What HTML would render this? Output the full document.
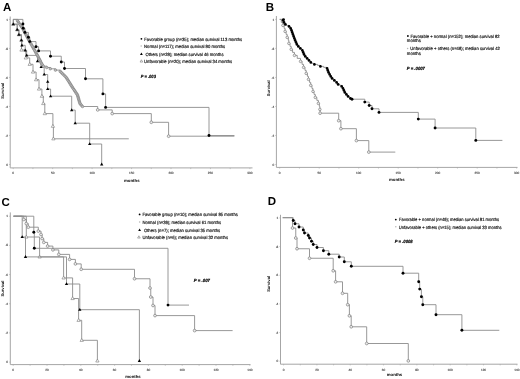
<!DOCTYPE html>
<html><head><meta charset="utf-8"><title>Survival curves</title>
<style>html,body{margin:0;padding:0;background:#fff;width:520px;height:379px;overflow:hidden;font-family:"Liberation Sans",sans-serif}</style>
</head><body>
<svg width="520" height="379" viewBox="0 0 520 379" style="position:absolute;left:0;top:0;will-change:transform;filter:blur(0.3px)">
<rect width="520" height="379" fill="#fff"/>
<g font-family="Liberation Sans, sans-serif" text-rendering="geometricPrecision">
<path d="M10.2 16.5V167.9H252.5" fill="none" stroke="#a6a6a6" stroke-width="1"/>
<path d="M9 164.5H10.2" stroke="#a6a6a6" stroke-width="0.6"/>
<text x="8" y="165.6" font-size="3.1" text-anchor="end" font-weight="normal" font-style="normal" fill="#444" stroke="#444" stroke-width="0.12">0</text>
<path d="M9 135.48H10.2" stroke="#a6a6a6" stroke-width="0.6"/>
<text x="8" y="136.58" font-size="3.1" text-anchor="end" font-weight="normal" font-style="normal" fill="#444" stroke="#444" stroke-width="0.12">.2</text>
<path d="M9 106.46H10.2" stroke="#a6a6a6" stroke-width="0.6"/>
<text x="8" y="107.56" font-size="3.1" text-anchor="end" font-weight="normal" font-style="normal" fill="#444" stroke="#444" stroke-width="0.12">.4</text>
<path d="M9 77.44H10.2" stroke="#a6a6a6" stroke-width="0.6"/>
<text x="8" y="78.54" font-size="3.1" text-anchor="end" font-weight="normal" font-style="normal" fill="#444" stroke="#444" stroke-width="0.12">.6</text>
<path d="M9 48.42H10.2" stroke="#a6a6a6" stroke-width="0.6"/>
<text x="8" y="49.52" font-size="3.1" text-anchor="end" font-weight="normal" font-style="normal" fill="#444" stroke="#444" stroke-width="0.12">.8</text>
<path d="M9 19.4H10.2" stroke="#a6a6a6" stroke-width="0.6"/>
<text x="8" y="20.5" font-size="3.1" text-anchor="end" font-weight="normal" font-style="normal" fill="#444" stroke="#444" stroke-width="0.12">1</text>
<path d="M13.2 167.9V169.1" stroke="#a6a6a6" stroke-width="0.6"/>
<text x="13.2" y="174.2" font-size="3.1" text-anchor="middle" font-weight="normal" font-style="normal" fill="#444" stroke="#444" stroke-width="0.12">0</text>
<path d="M32.92 167.9V169.1" stroke="#a6a6a6" stroke-width="0.6"/>
<path d="M52.65 167.9V169.1" stroke="#a6a6a6" stroke-width="0.6"/>
<text x="52.65" y="174.2" font-size="3.1" text-anchor="middle" font-weight="normal" font-style="normal" fill="#444" stroke="#444" stroke-width="0.12">50</text>
<path d="M72.38 167.9V169.1" stroke="#a6a6a6" stroke-width="0.6"/>
<path d="M92.1 167.9V169.1" stroke="#a6a6a6" stroke-width="0.6"/>
<text x="92.1" y="174.2" font-size="3.1" text-anchor="middle" font-weight="normal" font-style="normal" fill="#444" stroke="#444" stroke-width="0.12">100</text>
<path d="M111.83 167.9V169.1" stroke="#a6a6a6" stroke-width="0.6"/>
<path d="M131.55 167.9V169.1" stroke="#a6a6a6" stroke-width="0.6"/>
<text x="131.55" y="174.2" font-size="3.1" text-anchor="middle" font-weight="normal" font-style="normal" fill="#444" stroke="#444" stroke-width="0.12">150</text>
<path d="M151.28 167.9V169.1" stroke="#a6a6a6" stroke-width="0.6"/>
<path d="M171 167.9V169.1" stroke="#a6a6a6" stroke-width="0.6"/>
<text x="171" y="174.2" font-size="3.1" text-anchor="middle" font-weight="normal" font-style="normal" fill="#444" stroke="#444" stroke-width="0.12">200</text>
<path d="M190.72 167.9V169.1" stroke="#a6a6a6" stroke-width="0.6"/>
<path d="M210.45 167.9V169.1" stroke="#a6a6a6" stroke-width="0.6"/>
<text x="210.45" y="174.2" font-size="3.1" text-anchor="middle" font-weight="normal" font-style="normal" fill="#444" stroke="#444" stroke-width="0.12">250</text>
<path d="M230.18 167.9V169.1" stroke="#a6a6a6" stroke-width="0.6"/>
<path d="M249.9 167.9V169.1" stroke="#a6a6a6" stroke-width="0.6"/>
<text x="249.9" y="174.2" font-size="3.1" text-anchor="middle" font-weight="normal" font-style="normal" fill="#444" stroke="#444" stroke-width="0.12">300</text>
<text x="131.8" y="181.6" font-size="4.3" text-anchor="middle" font-weight="bold" font-style="normal" fill="#000">months</text>
<text transform="translate(3.9 90.75) rotate(-90)" font-size="4.1" text-anchor="middle" font-weight="bold">Survival</text>
<text x="3" y="10.5" font-size="11.5" text-anchor="start" font-weight="bold" font-style="normal" fill="#000">A</text>
<path d="M13.2 19.4H13.3V24.2H17.2V29.75H18.9V34.7H21.4V40.2H21.5V50H25.8V57.9H29.7V64.3H33V72H36.1V79.7H39V89H41.9V96.2H43.3V103.5H44.8V113.6H52.9V126.2H53.4V138.8H128.8" fill="none" stroke="#8c8c8c" stroke-width="0.9"/>
<path d="M13.3 22.4L14.97 25.3L11.63 25.3Z" fill="#fff" stroke="#6e6e6e" stroke-width="0.55"/>
<path d="M17.2 27.95L18.87 30.85L15.53 30.85Z" fill="#fff" stroke="#6e6e6e" stroke-width="0.55"/>
<path d="M18.9 32.9L20.57 35.8L17.23 35.8Z" fill="#fff" stroke="#6e6e6e" stroke-width="0.55"/>
<path d="M21.4 38.4L23.07 41.3L19.73 41.3Z" fill="#fff" stroke="#6e6e6e" stroke-width="0.55"/>
<path d="M21.5 48.2L23.17 51.1L19.83 51.1Z" fill="#fff" stroke="#6e6e6e" stroke-width="0.55"/>
<path d="M25.8 56.1L27.47 59L24.13 59Z" fill="#fff" stroke="#6e6e6e" stroke-width="0.55"/>
<path d="M29.7 62.5L31.37 65.4L28.03 65.4Z" fill="#fff" stroke="#6e6e6e" stroke-width="0.55"/>
<path d="M33 70.2L34.67 73.1L31.33 73.1Z" fill="#fff" stroke="#6e6e6e" stroke-width="0.55"/>
<path d="M36.1 77.9L37.77 80.8L34.43 80.8Z" fill="#fff" stroke="#6e6e6e" stroke-width="0.55"/>
<path d="M39 87.2L40.67 90.1L37.33 90.1Z" fill="#fff" stroke="#6e6e6e" stroke-width="0.55"/>
<path d="M41.9 94.4L43.57 97.3L40.23 97.3Z" fill="#fff" stroke="#6e6e6e" stroke-width="0.55"/>
<path d="M43.3 101.7L44.97 104.6L41.63 104.6Z" fill="#fff" stroke="#6e6e6e" stroke-width="0.55"/>
<path d="M44.8 111.8L46.47 114.7L43.13 114.7Z" fill="#fff" stroke="#6e6e6e" stroke-width="0.55"/>
<path d="M52.9 124.4L54.57 127.3L51.23 127.3Z" fill="#fff" stroke="#6e6e6e" stroke-width="0.55"/>
<path d="M53.4 137L55.07 139.9L51.73 139.9Z" fill="#fff" stroke="#6e6e6e" stroke-width="0.55"/>
<path d="M13.2 19.4H13.3V24.2H17.2V29.75H18.9V34.7H21.4V40.2H21.9V45.3H25.2V50.3H26.7V55.4H37.5V61.2H41.2V67H44.2V74.5H47.7V81.7H47.7V89H50.6V96.2H71.7V110.1H75.2V123.2H89.7V144H101.7V164.5" fill="none" stroke="#8c8c8c" stroke-width="0.9"/>
<path d="M13.3 22.4L14.97 25.3L11.63 25.3Z" fill="#000"/>
<path d="M17.2 27.95L18.87 30.85L15.53 30.85Z" fill="#000"/>
<path d="M18.9 32.9L20.57 35.8L17.23 35.8Z" fill="#000"/>
<path d="M21.4 38.4L23.07 41.3L19.73 41.3Z" fill="#000"/>
<path d="M21.9 43.5L23.57 46.4L20.23 46.4Z" fill="#000"/>
<path d="M25.2 48.5L26.87 51.4L23.53 51.4Z" fill="#000"/>
<path d="M26.7 53.6L28.37 56.5L25.03 56.5Z" fill="#000"/>
<path d="M37.5 59.4L39.17 62.3L35.83 62.3Z" fill="#000"/>
<path d="M41.2 65.2L42.87 68.1L39.53 68.1Z" fill="#000"/>
<path d="M44.2 72.7L45.87 75.6L42.53 75.6Z" fill="#000"/>
<path d="M47.7 79.9L49.37 82.8L46.03 82.8Z" fill="#000"/>
<path d="M47.7 87.2L49.37 90.1L46.03 90.1Z" fill="#000"/>
<path d="M50.6 94.4L52.27 97.3L48.93 97.3Z" fill="#000"/>
<path d="M71.7 108.3L73.37 111.2L70.03 111.2Z" fill="#000"/>
<path d="M75.2 121.4L76.87 124.3L73.53 124.3Z" fill="#000"/>
<path d="M89.7 142.2L91.37 145.1L88.03 145.1Z" fill="#000"/>
<path d="M101.7 162.6L103.37 165.5L100.03 165.5Z" fill="#000"/>
<path d="M13.2 19.4H17.4V20.7H18.31V22H19.16V23.3H20.06V24.6H20.91V25.9H21.81V27.2H22.72V28.5H23.47V29.8H24.12V31.1H24.82V32.4H25.48V33.7H26.18V35H26.88V36.3H27.54V37.6H28.24V38.9H28.95V40.2H29.68V41.5H30.37V42.8H31.11V44.1H31.85V45.4H32.58V46.7H33.32V48H34.06V49.3H34.74V50.6H35.48V51.9H36.22V53.2H36.95V54.5H37.61V55.8H38.29V57.1H38.98V58.4H39.61V59.7H40.3V61H40.93V62.3H41.62V63.6H42.25V64.9H43.36V66.2H46.73V67.5H50.29V68.8H55.44V70.1H60.21V71.4H61.49V72.7H62.77V74H64.12V75.3H65.4V76.6H66.52V77.9H67.32V79.2H68.17V80.5H68.97V81.8H69.78V83.1H70.58V84.4H71.38V85.7H72.23V87H73.06V88.3H73.94V89.6H74.78V90.9H75.67V92.2H76.5V93.5H77.39V94.8H77.83V96.1H78.19V97.4H78.57V98.7H78.93V100H79.31V101.3H79.7V102.6H80.2V103.9H81.35V105.2H82.5V106.5H97.7V109.9H112.2V113.6H151.3V122.3H168.6V136.2H234.4" fill="none" stroke="#8c8c8c" stroke-width="0.9"/>
<circle cx="17.4" cy="20.7" r="1.3" fill="#bdbdbd" stroke="#707070" stroke-width="0.5"/>
<circle cx="18.31" cy="22" r="1.3" fill="#bdbdbd" stroke="#707070" stroke-width="0.5"/>
<circle cx="19.16" cy="23.3" r="1.3" fill="#bdbdbd" stroke="#707070" stroke-width="0.5"/>
<circle cx="20.06" cy="24.6" r="1.3" fill="#bdbdbd" stroke="#707070" stroke-width="0.5"/>
<circle cx="20.91" cy="25.9" r="1.3" fill="#bdbdbd" stroke="#707070" stroke-width="0.5"/>
<circle cx="21.81" cy="27.2" r="1.3" fill="#bdbdbd" stroke="#707070" stroke-width="0.5"/>
<circle cx="22.72" cy="28.5" r="1.3" fill="#bdbdbd" stroke="#707070" stroke-width="0.5"/>
<circle cx="23.47" cy="29.8" r="1.3" fill="#bdbdbd" stroke="#707070" stroke-width="0.5"/>
<circle cx="24.12" cy="31.1" r="1.3" fill="#bdbdbd" stroke="#707070" stroke-width="0.5"/>
<circle cx="24.82" cy="32.4" r="1.3" fill="#bdbdbd" stroke="#707070" stroke-width="0.5"/>
<circle cx="25.48" cy="33.7" r="1.3" fill="#bdbdbd" stroke="#707070" stroke-width="0.5"/>
<circle cx="26.18" cy="35" r="1.3" fill="#bdbdbd" stroke="#707070" stroke-width="0.5"/>
<circle cx="26.88" cy="36.3" r="1.3" fill="#bdbdbd" stroke="#707070" stroke-width="0.5"/>
<circle cx="27.54" cy="37.6" r="1.3" fill="#bdbdbd" stroke="#707070" stroke-width="0.5"/>
<circle cx="28.24" cy="38.9" r="1.3" fill="#bdbdbd" stroke="#707070" stroke-width="0.5"/>
<circle cx="28.95" cy="40.2" r="1.3" fill="#bdbdbd" stroke="#707070" stroke-width="0.5"/>
<circle cx="29.68" cy="41.5" r="1.3" fill="#bdbdbd" stroke="#707070" stroke-width="0.5"/>
<circle cx="30.37" cy="42.8" r="1.3" fill="#bdbdbd" stroke="#707070" stroke-width="0.5"/>
<circle cx="31.11" cy="44.1" r="1.3" fill="#bdbdbd" stroke="#707070" stroke-width="0.5"/>
<circle cx="31.85" cy="45.4" r="1.3" fill="#bdbdbd" stroke="#707070" stroke-width="0.5"/>
<circle cx="32.58" cy="46.7" r="1.3" fill="#bdbdbd" stroke="#707070" stroke-width="0.5"/>
<circle cx="33.32" cy="48" r="1.3" fill="#bdbdbd" stroke="#707070" stroke-width="0.5"/>
<circle cx="34.06" cy="49.3" r="1.3" fill="#bdbdbd" stroke="#707070" stroke-width="0.5"/>
<circle cx="34.74" cy="50.6" r="1.3" fill="#bdbdbd" stroke="#707070" stroke-width="0.5"/>
<circle cx="35.48" cy="51.9" r="1.3" fill="#bdbdbd" stroke="#707070" stroke-width="0.5"/>
<circle cx="36.22" cy="53.2" r="1.3" fill="#bdbdbd" stroke="#707070" stroke-width="0.5"/>
<circle cx="36.95" cy="54.5" r="1.3" fill="#bdbdbd" stroke="#707070" stroke-width="0.5"/>
<circle cx="37.61" cy="55.8" r="1.3" fill="#bdbdbd" stroke="#707070" stroke-width="0.5"/>
<circle cx="38.29" cy="57.1" r="1.3" fill="#bdbdbd" stroke="#707070" stroke-width="0.5"/>
<circle cx="38.98" cy="58.4" r="1.3" fill="#bdbdbd" stroke="#707070" stroke-width="0.5"/>
<circle cx="39.61" cy="59.7" r="1.3" fill="#bdbdbd" stroke="#707070" stroke-width="0.5"/>
<circle cx="40.3" cy="61" r="1.3" fill="#bdbdbd" stroke="#707070" stroke-width="0.5"/>
<circle cx="40.93" cy="62.3" r="1.3" fill="#bdbdbd" stroke="#707070" stroke-width="0.5"/>
<circle cx="41.62" cy="63.6" r="1.3" fill="#bdbdbd" stroke="#707070" stroke-width="0.5"/>
<circle cx="42.25" cy="64.9" r="1.3" fill="#bdbdbd" stroke="#707070" stroke-width="0.5"/>
<circle cx="43.36" cy="66.2" r="1.3" fill="#bdbdbd" stroke="#707070" stroke-width="0.5"/>
<circle cx="46.73" cy="67.5" r="1.3" fill="#bdbdbd" stroke="#707070" stroke-width="0.5"/>
<circle cx="50.29" cy="68.8" r="1.3" fill="#bdbdbd" stroke="#707070" stroke-width="0.5"/>
<circle cx="55.44" cy="70.1" r="1.3" fill="#bdbdbd" stroke="#707070" stroke-width="0.5"/>
<circle cx="60.21" cy="71.4" r="1.3" fill="#bdbdbd" stroke="#707070" stroke-width="0.5"/>
<circle cx="61.49" cy="72.7" r="1.3" fill="#bdbdbd" stroke="#707070" stroke-width="0.5"/>
<circle cx="62.77" cy="74" r="1.3" fill="#bdbdbd" stroke="#707070" stroke-width="0.5"/>
<circle cx="64.12" cy="75.3" r="1.3" fill="#bdbdbd" stroke="#707070" stroke-width="0.5"/>
<circle cx="65.4" cy="76.6" r="1.3" fill="#bdbdbd" stroke="#707070" stroke-width="0.5"/>
<circle cx="66.52" cy="77.9" r="1.3" fill="#bdbdbd" stroke="#707070" stroke-width="0.5"/>
<circle cx="67.32" cy="79.2" r="1.3" fill="#bdbdbd" stroke="#707070" stroke-width="0.5"/>
<circle cx="68.17" cy="80.5" r="1.3" fill="#bdbdbd" stroke="#707070" stroke-width="0.5"/>
<circle cx="68.97" cy="81.8" r="1.3" fill="#bdbdbd" stroke="#707070" stroke-width="0.5"/>
<circle cx="69.78" cy="83.1" r="1.3" fill="#bdbdbd" stroke="#707070" stroke-width="0.5"/>
<circle cx="70.58" cy="84.4" r="1.3" fill="#bdbdbd" stroke="#707070" stroke-width="0.5"/>
<circle cx="71.38" cy="85.7" r="1.3" fill="#bdbdbd" stroke="#707070" stroke-width="0.5"/>
<circle cx="72.23" cy="87" r="1.3" fill="#bdbdbd" stroke="#707070" stroke-width="0.5"/>
<circle cx="73.06" cy="88.3" r="1.3" fill="#bdbdbd" stroke="#707070" stroke-width="0.5"/>
<circle cx="73.94" cy="89.6" r="1.3" fill="#bdbdbd" stroke="#707070" stroke-width="0.5"/>
<circle cx="74.78" cy="90.9" r="1.3" fill="#bdbdbd" stroke="#707070" stroke-width="0.5"/>
<circle cx="75.67" cy="92.2" r="1.3" fill="#bdbdbd" stroke="#707070" stroke-width="0.5"/>
<circle cx="76.5" cy="93.5" r="1.3" fill="#bdbdbd" stroke="#707070" stroke-width="0.5"/>
<circle cx="77.39" cy="94.8" r="1.3" fill="#bdbdbd" stroke="#707070" stroke-width="0.5"/>
<circle cx="77.83" cy="96.1" r="1.3" fill="#bdbdbd" stroke="#707070" stroke-width="0.5"/>
<circle cx="78.19" cy="97.4" r="1.3" fill="#bdbdbd" stroke="#707070" stroke-width="0.5"/>
<circle cx="78.57" cy="98.7" r="1.3" fill="#bdbdbd" stroke="#707070" stroke-width="0.5"/>
<circle cx="78.93" cy="100" r="1.3" fill="#bdbdbd" stroke="#707070" stroke-width="0.5"/>
<circle cx="79.31" cy="101.3" r="1.3" fill="#bdbdbd" stroke="#707070" stroke-width="0.5"/>
<circle cx="79.7" cy="102.6" r="1.3" fill="#bdbdbd" stroke="#707070" stroke-width="0.5"/>
<circle cx="80.2" cy="103.9" r="1.3" fill="#bdbdbd" stroke="#707070" stroke-width="0.5"/>
<circle cx="81.35" cy="105.2" r="1.3" fill="#bdbdbd" stroke="#707070" stroke-width="0.5"/>
<circle cx="82.5" cy="106.5" r="1.3" fill="#bdbdbd" stroke="#707070" stroke-width="0.5"/>
<circle cx="97.7" cy="109.9" r="1.38" fill="#ececec" stroke="#666" stroke-width="0.55"/>
<circle cx="112.2" cy="113.6" r="1.38" fill="#ececec" stroke="#666" stroke-width="0.55"/>
<circle cx="151.3" cy="122.3" r="1.38" fill="#ececec" stroke="#666" stroke-width="0.55"/>
<circle cx="168.6" cy="136.2" r="1.38" fill="#ececec" stroke="#666" stroke-width="0.55"/>
<path d="M13.2 19.4H22.9V24H23.2V28.2H24.9V32.4H28.4V37.2H29.8V41.6H36V46.7H38.6V50.9H50.5V56.2H61.25V62H64.5V68.5H85.5V78.8H102.9V93.9H105.6V107.4H209V135.5H234.4" fill="none" stroke="#8c8c8c" stroke-width="0.9"/>
<circle cx="22.9" cy="24" r="1.45" fill="#000"/>
<circle cx="23.2" cy="28.2" r="1.45" fill="#000"/>
<circle cx="24.9" cy="32.4" r="1.45" fill="#000"/>
<circle cx="28.4" cy="37.2" r="1.45" fill="#000"/>
<circle cx="29.8" cy="41.6" r="1.45" fill="#000"/>
<circle cx="36" cy="46.7" r="1.45" fill="#000"/>
<circle cx="38.6" cy="50.9" r="1.45" fill="#000"/>
<circle cx="50.5" cy="56.2" r="1.45" fill="#000"/>
<circle cx="61.25" cy="62" r="1.45" fill="#000"/>
<circle cx="64.5" cy="68.5" r="1.45" fill="#000"/>
<circle cx="85.5" cy="78.8" r="1.45" fill="#000"/>
<circle cx="102.9" cy="93.9" r="1.45" fill="#000"/>
<circle cx="105.6" cy="107.4" r="1.45" fill="#000"/>
<circle cx="209" cy="135.5" r="1.45" fill="#000"/>
<circle cx="141.4" cy="38.8" r="0.9" fill="#000"/>
<text x="144.3" y="40.6" font-size="4.5" text-anchor="start" font-weight="normal" font-style="normal" fill="#111" stroke="#111" stroke-width="0.16" textLength="97.8" lengthAdjust="spacingAndGlyphs">Favorable group (n=35); median survival 113 months</text>
<circle cx="141.2" cy="46.1" r="0.75" fill="#b4b4b4"/>
<text x="144.1" y="47.9" font-size="4.5" text-anchor="start" font-weight="normal" font-style="normal" fill="#111" stroke="#111" stroke-width="0.16" textLength="81.1" lengthAdjust="spacingAndGlyphs">Normal (n=117); median survival 80 months</text>
<path d="M141.4 52.51L142.78 54.91L140.02 54.91Z" fill="#000"/>
<text x="145.4" y="55.5" font-size="4.5" text-anchor="start" font-weight="normal" font-style="normal" fill="#111" stroke="#111" stroke-width="0.16" textLength="78.1" lengthAdjust="spacingAndGlyphs">Others (n=28); median survival 46 months</text>
<path d="M141.4 59.77L142.72 62.07L140.08 62.07Z" fill="#fff" stroke="#6e6e6e" stroke-width="0.55"/>
<text x="144.1" y="63.1" font-size="4.5" text-anchor="start" font-weight="normal" font-style="normal" fill="#111" stroke="#111" stroke-width="0.16" textLength="88" lengthAdjust="spacingAndGlyphs">Unfavorable (n=20); median survival 34 months</text>
<text x="140.8" y="78.1" font-size="4.55" text-anchor="start" font-weight="bold" font-style="italic" fill="#000" stroke="#000" stroke-width="0.18" textLength="15.1" lengthAdjust="spacingAndGlyphs">P = .003</text>
<path d="M276.4 16V167.4H517.5" fill="none" stroke="#a6a6a6" stroke-width="1"/>
<path d="M275.2 164.5H276.4" stroke="#a6a6a6" stroke-width="0.6"/>
<text x="274.2" y="165.6" font-size="3.1" text-anchor="end" font-weight="normal" font-style="normal" fill="#444" stroke="#444" stroke-width="0.12">0</text>
<path d="M275.2 135.48H276.4" stroke="#a6a6a6" stroke-width="0.6"/>
<text x="274.2" y="136.58" font-size="3.1" text-anchor="end" font-weight="normal" font-style="normal" fill="#444" stroke="#444" stroke-width="0.12">.2</text>
<path d="M275.2 106.46H276.4" stroke="#a6a6a6" stroke-width="0.6"/>
<text x="274.2" y="107.56" font-size="3.1" text-anchor="end" font-weight="normal" font-style="normal" fill="#444" stroke="#444" stroke-width="0.12">.4</text>
<path d="M275.2 77.44H276.4" stroke="#a6a6a6" stroke-width="0.6"/>
<text x="274.2" y="78.54" font-size="3.1" text-anchor="end" font-weight="normal" font-style="normal" fill="#444" stroke="#444" stroke-width="0.12">.6</text>
<path d="M275.2 48.42H276.4" stroke="#a6a6a6" stroke-width="0.6"/>
<text x="274.2" y="49.52" font-size="3.1" text-anchor="end" font-weight="normal" font-style="normal" fill="#444" stroke="#444" stroke-width="0.12">.8</text>
<path d="M275.2 19.4H276.4" stroke="#a6a6a6" stroke-width="0.6"/>
<text x="274.2" y="20.5" font-size="3.1" text-anchor="end" font-weight="normal" font-style="normal" fill="#444" stroke="#444" stroke-width="0.12">1</text>
<path d="M279.7 167.4V168.6" stroke="#a6a6a6" stroke-width="0.6"/>
<text x="279.7" y="173.7" font-size="3.1" text-anchor="middle" font-weight="normal" font-style="normal" fill="#444" stroke="#444" stroke-width="0.12">0</text>
<path d="M299.45 167.4V168.6" stroke="#a6a6a6" stroke-width="0.6"/>
<path d="M319.2 167.4V168.6" stroke="#a6a6a6" stroke-width="0.6"/>
<text x="319.2" y="173.7" font-size="3.1" text-anchor="middle" font-weight="normal" font-style="normal" fill="#444" stroke="#444" stroke-width="0.12">50</text>
<path d="M338.95 167.4V168.6" stroke="#a6a6a6" stroke-width="0.6"/>
<path d="M358.7 167.4V168.6" stroke="#a6a6a6" stroke-width="0.6"/>
<text x="358.7" y="173.7" font-size="3.1" text-anchor="middle" font-weight="normal" font-style="normal" fill="#444" stroke="#444" stroke-width="0.12">100</text>
<path d="M378.45 167.4V168.6" stroke="#a6a6a6" stroke-width="0.6"/>
<path d="M398.2 167.4V168.6" stroke="#a6a6a6" stroke-width="0.6"/>
<text x="398.2" y="173.7" font-size="3.1" text-anchor="middle" font-weight="normal" font-style="normal" fill="#444" stroke="#444" stroke-width="0.12">150</text>
<path d="M417.95 167.4V168.6" stroke="#a6a6a6" stroke-width="0.6"/>
<path d="M437.7 167.4V168.6" stroke="#a6a6a6" stroke-width="0.6"/>
<text x="437.7" y="173.7" font-size="3.1" text-anchor="middle" font-weight="normal" font-style="normal" fill="#444" stroke="#444" stroke-width="0.12">200</text>
<path d="M457.45 167.4V168.6" stroke="#a6a6a6" stroke-width="0.6"/>
<path d="M477.2 167.4V168.6" stroke="#a6a6a6" stroke-width="0.6"/>
<text x="477.2" y="173.7" font-size="3.1" text-anchor="middle" font-weight="normal" font-style="normal" fill="#444" stroke="#444" stroke-width="0.12">250</text>
<path d="M496.95 167.4V168.6" stroke="#a6a6a6" stroke-width="0.6"/>
<path d="M516.7 167.4V168.6" stroke="#a6a6a6" stroke-width="0.6"/>
<text x="516.7" y="173.7" font-size="3.1" text-anchor="middle" font-weight="normal" font-style="normal" fill="#444" stroke="#444" stroke-width="0.12">300</text>
<text x="396.8" y="181.4" font-size="4.3" text-anchor="middle" font-weight="bold" font-style="normal" fill="#000">months</text>
<text transform="translate(269.6 88.2) rotate(-90)" font-size="4.1" text-anchor="middle" font-weight="bold">Survival</text>
<text x="265.7" y="10.5" font-size="11.5" text-anchor="start" font-weight="bold" font-style="normal" fill="#000">B</text>
<path d="M279.7 19.4H281.3V22.4H282.92V25.4H284.15V28.4H285.1V31.4H286.1V34.4H287.19V37.4H288.3V40.4H288.88V43.4H290V46.4H291.2V49.4H292.56V52.4H294.45V55.4H297.22V58.4H300.54V61.4H302.09V64.4H303.57V67.4H304.98V70.4H306.2V73.4H307.44V76.4H308.48V79.4H309.56V82.4H310.72V85.4H311.91V88.4H312.98V91.4H314.02V94.4H315.28V97.4H316.83V100.4H318.36V103.4H319.36V106.4H319.89V109.4H320.1V113.2H338.7V120.7H340.9V128.7H356.4V140.6H368.8V152.1H395.3" fill="none" stroke="#8c8c8c" stroke-width="0.9"/>
<circle cx="282.92" cy="25.4" r="1.28" fill="#ececec" stroke="#666" stroke-width="0.55"/>
<circle cx="285.1" cy="31.4" r="1.28" fill="#ececec" stroke="#666" stroke-width="0.55"/>
<circle cx="287.19" cy="37.4" r="1.28" fill="#ececec" stroke="#666" stroke-width="0.55"/>
<circle cx="288.88" cy="43.4" r="1.28" fill="#ececec" stroke="#666" stroke-width="0.55"/>
<circle cx="291.2" cy="49.4" r="1.28" fill="#ececec" stroke="#666" stroke-width="0.55"/>
<circle cx="294.45" cy="55.4" r="1.28" fill="#ececec" stroke="#666" stroke-width="0.55"/>
<circle cx="300.54" cy="61.4" r="1.28" fill="#ececec" stroke="#666" stroke-width="0.55"/>
<circle cx="303.57" cy="67.4" r="1.28" fill="#ececec" stroke="#666" stroke-width="0.55"/>
<circle cx="306.2" cy="73.4" r="1.28" fill="#ececec" stroke="#666" stroke-width="0.55"/>
<circle cx="308.48" cy="79.4" r="1.28" fill="#ececec" stroke="#666" stroke-width="0.55"/>
<circle cx="310.72" cy="85.4" r="1.28" fill="#ececec" stroke="#666" stroke-width="0.55"/>
<circle cx="312.98" cy="91.4" r="1.28" fill="#ececec" stroke="#666" stroke-width="0.55"/>
<circle cx="315.28" cy="97.4" r="1.28" fill="#ececec" stroke="#666" stroke-width="0.55"/>
<circle cx="318.36" cy="103.4" r="1.28" fill="#ececec" stroke="#666" stroke-width="0.55"/>
<circle cx="319.89" cy="109.4" r="1.28" fill="#ececec" stroke="#666" stroke-width="0.55"/>
<circle cx="320.1" cy="113.2" r="1.38" fill="#ececec" stroke="#666" stroke-width="0.55"/>
<circle cx="338.7" cy="120.7" r="1.38" fill="#ececec" stroke="#666" stroke-width="0.55"/>
<circle cx="340.9" cy="128.7" r="1.38" fill="#ececec" stroke="#666" stroke-width="0.55"/>
<circle cx="356.4" cy="140.6" r="1.38" fill="#ececec" stroke="#666" stroke-width="0.55"/>
<circle cx="368.8" cy="152.1" r="1.38" fill="#ececec" stroke="#666" stroke-width="0.55"/>
<path d="M279.7 19.4H283.05V20.4H283.55V21.4H284.06V22.4H284.56V23.4H285.41V24.4H286.4V25.4H289V26.4H290.19V27.4H290.68V28.4H291.16V29.4H291.53V30.4H291.87V31.4H292.23V32.4H292.57V33.4H292.94V34.4H293.29V35.4H293.66V36.4H294.01V37.4H294.39V38.4H294.73V39.4H295.16V40.4H295.6V41.4H296.04V42.4H296.44V43.4H296.88V44.4H297.55V45.4H298.34V46.4H299.08V47.4H300.33V48.4H301.62V49.4H302.37V50.4H302.8V51.4H303.23V52.4H303.66V53.4H304.05V54.4H304.48V55.4H305.28V56.4H306.24V57.4H307.13V58.4H308.09V59.4H308.97V60.4H309.92V61.4H310.81V62.4H311.76V63.4H314.41V64.4H317.58V65.4H320.41V66.4H323.67V67.4H327.1V68.4H327.43V69.4H327.8V70.4H328.13V71.4H328.55V72.4H329.09V73.4H329.63V74.4H330.22V75.4H330.76V76.4H331.36V77.4H332.08V78.4H333.21V79.4H334.34V80.4H335.47V81.4H336.6V82.4H337.43V83.4H338.12V84.4H339.75V85.4H341.66V86.4H342.54V87.4H343V88.4H343.47V89.4H343.93V90.4H344.35V91.4H344.82V92.4H345.61V93.4H346.39V94.4H347.23V95.4H348.07V96.4H349.23V97.4H350.42V98.4H352V99.2H364.8V102.1H369.2V105.5H372V108.8H379V112.4H418.3V119.1H435.1V128H475.8V140.4H502.4" fill="none" stroke="#8c8c8c" stroke-width="0.9"/>
<circle cx="283.05" cy="20.4" r="1.35" fill="#000"/>
<circle cx="284.06" cy="22.4" r="1.35" fill="#000"/>
<circle cx="285.41" cy="24.4" r="1.35" fill="#000"/>
<circle cx="289" cy="26.4" r="1.35" fill="#000"/>
<circle cx="290.68" cy="28.4" r="1.35" fill="#000"/>
<circle cx="291.53" cy="30.4" r="1.35" fill="#000"/>
<circle cx="292.23" cy="32.4" r="1.35" fill="#000"/>
<circle cx="292.94" cy="34.4" r="1.35" fill="#000"/>
<circle cx="293.66" cy="36.4" r="1.35" fill="#000"/>
<circle cx="294.39" cy="38.4" r="1.35" fill="#000"/>
<circle cx="295.16" cy="40.4" r="1.35" fill="#000"/>
<circle cx="296.04" cy="42.4" r="1.35" fill="#000"/>
<circle cx="296.88" cy="44.4" r="1.35" fill="#000"/>
<circle cx="298.34" cy="46.4" r="1.35" fill="#000"/>
<circle cx="300.33" cy="48.4" r="1.35" fill="#000"/>
<circle cx="302.37" cy="50.4" r="1.35" fill="#000"/>
<circle cx="303.23" cy="52.4" r="1.35" fill="#000"/>
<circle cx="304.05" cy="54.4" r="1.35" fill="#000"/>
<circle cx="305.28" cy="56.4" r="1.35" fill="#000"/>
<circle cx="307.13" cy="58.4" r="1.35" fill="#000"/>
<circle cx="308.97" cy="60.4" r="1.35" fill="#000"/>
<circle cx="310.81" cy="62.4" r="1.35" fill="#000"/>
<circle cx="314.41" cy="64.4" r="1.35" fill="#000"/>
<circle cx="320.41" cy="66.4" r="1.35" fill="#000"/>
<circle cx="327.1" cy="68.4" r="1.35" fill="#000"/>
<circle cx="327.8" cy="70.4" r="1.35" fill="#000"/>
<circle cx="328.55" cy="72.4" r="1.35" fill="#000"/>
<circle cx="329.63" cy="74.4" r="1.35" fill="#000"/>
<circle cx="330.76" cy="76.4" r="1.35" fill="#000"/>
<circle cx="332.08" cy="78.4" r="1.35" fill="#000"/>
<circle cx="334.34" cy="80.4" r="1.35" fill="#000"/>
<circle cx="336.6" cy="82.4" r="1.35" fill="#000"/>
<circle cx="338.12" cy="84.4" r="1.35" fill="#000"/>
<circle cx="341.66" cy="86.4" r="1.35" fill="#000"/>
<circle cx="343" cy="88.4" r="1.35" fill="#000"/>
<circle cx="343.93" cy="90.4" r="1.35" fill="#000"/>
<circle cx="344.82" cy="92.4" r="1.35" fill="#000"/>
<circle cx="346.39" cy="94.4" r="1.35" fill="#000"/>
<circle cx="348.07" cy="96.4" r="1.35" fill="#000"/>
<circle cx="350.42" cy="98.4" r="1.35" fill="#000"/>
<circle cx="352" cy="99.2" r="1.45" fill="#000"/>
<circle cx="364.8" cy="102.1" r="1.45" fill="#000"/>
<circle cx="369.2" cy="105.5" r="1.45" fill="#000"/>
<circle cx="372" cy="108.8" r="1.45" fill="#000"/>
<circle cx="379" cy="112.4" r="1.45" fill="#000"/>
<circle cx="418.3" cy="119.1" r="1.45" fill="#000"/>
<circle cx="435.1" cy="128" r="1.45" fill="#000"/>
<circle cx="475.8" cy="140.4" r="1.45" fill="#000"/>
<circle cx="283.5" cy="19.6" r="1.45" fill="#000"/>
<circle cx="407.9" cy="36" r="0.9" fill="#000"/>
<text x="410.4" y="37.5" font-size="4.5" text-anchor="start" font-weight="normal" font-style="normal" fill="#111" stroke="#111" stroke-width="0.16" textLength="89.2" lengthAdjust="spacingAndGlyphs">Favorable + normal (n=152); median survival 82</text>
<text x="406.8" y="42.3" font-size="4.5" text-anchor="start" font-weight="normal" font-style="normal" fill="#111" stroke="#111" stroke-width="0.16" textLength="14.1" lengthAdjust="spacingAndGlyphs">months</text>
<circle cx="407.6" cy="48.5" r="0.75" fill="#b4b4b4"/>
<text x="410.3" y="50.2" font-size="4.5" text-anchor="start" font-weight="normal" font-style="normal" fill="#111" stroke="#111" stroke-width="0.16" textLength="89.6" lengthAdjust="spacingAndGlyphs">Unfavorable + others (n=48); median survival 42</text>
<text x="406.8" y="55" font-size="4.5" text-anchor="start" font-weight="normal" font-style="normal" fill="#111" stroke="#111" stroke-width="0.16" textLength="14.1" lengthAdjust="spacingAndGlyphs">months</text>
<text x="406.8" y="70.1" font-size="4.55" text-anchor="start" font-weight="bold" font-style="italic" fill="#000" stroke="#000" stroke-width="0.18" textLength="18.2" lengthAdjust="spacingAndGlyphs">P = .0007</text>
<path d="M10.3 212.4V364.6H250.5" fill="none" stroke="#a6a6a6" stroke-width="1"/>
<path d="M9.1 362.1H10.3" stroke="#a6a6a6" stroke-width="0.6"/>
<text x="8.1" y="363.2" font-size="3.1" text-anchor="end" font-weight="normal" font-style="normal" fill="#444" stroke="#444" stroke-width="0.12">0</text>
<path d="M9.1 332.92H10.3" stroke="#a6a6a6" stroke-width="0.6"/>
<text x="8.1" y="334.02" font-size="3.1" text-anchor="end" font-weight="normal" font-style="normal" fill="#444" stroke="#444" stroke-width="0.12">.2</text>
<path d="M9.1 303.74H10.3" stroke="#a6a6a6" stroke-width="0.6"/>
<text x="8.1" y="304.84" font-size="3.1" text-anchor="end" font-weight="normal" font-style="normal" fill="#444" stroke="#444" stroke-width="0.12">.4</text>
<path d="M9.1 274.56H10.3" stroke="#a6a6a6" stroke-width="0.6"/>
<text x="8.1" y="275.66" font-size="3.1" text-anchor="end" font-weight="normal" font-style="normal" fill="#444" stroke="#444" stroke-width="0.12">.6</text>
<path d="M9.1 245.38H10.3" stroke="#a6a6a6" stroke-width="0.6"/>
<text x="8.1" y="246.48" font-size="3.1" text-anchor="end" font-weight="normal" font-style="normal" fill="#444" stroke="#444" stroke-width="0.12">.8</text>
<path d="M9.1 216.2H10.3" stroke="#a6a6a6" stroke-width="0.6"/>
<text x="8.1" y="217.3" font-size="3.1" text-anchor="end" font-weight="normal" font-style="normal" fill="#444" stroke="#444" stroke-width="0.12">1</text>
<path d="M13.2 364.6V365.8" stroke="#a6a6a6" stroke-width="0.6"/>
<text x="13.2" y="370.9" font-size="3.1" text-anchor="middle" font-weight="normal" font-style="normal" fill="#444" stroke="#444" stroke-width="0.12">0</text>
<path d="M30.1 364.6V365.8" stroke="#a6a6a6" stroke-width="0.6"/>
<path d="M47 364.6V365.8" stroke="#a6a6a6" stroke-width="0.6"/>
<text x="47" y="370.9" font-size="3.1" text-anchor="middle" font-weight="normal" font-style="normal" fill="#444" stroke="#444" stroke-width="0.12">20</text>
<path d="M63.9 364.6V365.8" stroke="#a6a6a6" stroke-width="0.6"/>
<path d="M80.8 364.6V365.8" stroke="#a6a6a6" stroke-width="0.6"/>
<text x="80.8" y="370.9" font-size="3.1" text-anchor="middle" font-weight="normal" font-style="normal" fill="#444" stroke="#444" stroke-width="0.12">40</text>
<path d="M97.7 364.6V365.8" stroke="#a6a6a6" stroke-width="0.6"/>
<path d="M114.6 364.6V365.8" stroke="#a6a6a6" stroke-width="0.6"/>
<text x="114.6" y="370.9" font-size="3.1" text-anchor="middle" font-weight="normal" font-style="normal" fill="#444" stroke="#444" stroke-width="0.12">60</text>
<path d="M131.5 364.6V365.8" stroke="#a6a6a6" stroke-width="0.6"/>
<path d="M148.4 364.6V365.8" stroke="#a6a6a6" stroke-width="0.6"/>
<text x="148.4" y="370.9" font-size="3.1" text-anchor="middle" font-weight="normal" font-style="normal" fill="#444" stroke="#444" stroke-width="0.12">80</text>
<path d="M165.3 364.6V365.8" stroke="#a6a6a6" stroke-width="0.6"/>
<path d="M182.2 364.6V365.8" stroke="#a6a6a6" stroke-width="0.6"/>
<text x="182.2" y="370.9" font-size="3.1" text-anchor="middle" font-weight="normal" font-style="normal" fill="#444" stroke="#444" stroke-width="0.12">100</text>
<path d="M199.1 364.6V365.8" stroke="#a6a6a6" stroke-width="0.6"/>
<path d="M216 364.6V365.8" stroke="#a6a6a6" stroke-width="0.6"/>
<text x="216" y="370.9" font-size="3.1" text-anchor="middle" font-weight="normal" font-style="normal" fill="#444" stroke="#444" stroke-width="0.12">120</text>
<path d="M232.9 364.6V365.8" stroke="#a6a6a6" stroke-width="0.6"/>
<path d="M249.8 364.6V365.8" stroke="#a6a6a6" stroke-width="0.6"/>
<text x="249.8" y="370.9" font-size="3.1" text-anchor="middle" font-weight="normal" font-style="normal" fill="#444" stroke="#444" stroke-width="0.12">140</text>
<text x="133" y="378.3" font-size="4.3" text-anchor="middle" font-weight="bold" font-style="normal" fill="#000">months</text>
<text transform="translate(3.9 288.5) rotate(-90)" font-size="4.1" text-anchor="middle" font-weight="bold">Survival</text>
<text x="1.6" y="205.8" font-size="11.5" text-anchor="start" font-weight="bold" font-style="normal" fill="#000">C</text>
<path d="M13.5 216.2H26.3V237H39.6V256.9H63.6V277.9H72.6V298.5H78.6V320.3H81.7V340.3H97.4V362.1" fill="none" stroke="#8c8c8c" stroke-width="0.9"/>
<path d="M26.3 235.2L27.97 238.1L24.63 238.1Z" fill="#fff" stroke="#6e6e6e" stroke-width="0.55"/>
<path d="M39.6 255.1L41.27 258L37.93 258Z" fill="#fff" stroke="#6e6e6e" stroke-width="0.55"/>
<path d="M63.6 276.1L65.27 279L61.93 279Z" fill="#fff" stroke="#6e6e6e" stroke-width="0.55"/>
<path d="M72.6 296.7L74.27 299.6L70.93 299.6Z" fill="#fff" stroke="#6e6e6e" stroke-width="0.55"/>
<path d="M78.6 318.5L80.27 321.4L76.93 321.4Z" fill="#fff" stroke="#6e6e6e" stroke-width="0.55"/>
<path d="M81.7 338.5L83.37 341.4L80.03 341.4Z" fill="#fff" stroke="#6e6e6e" stroke-width="0.55"/>
<path d="M97.4 359.1L99.07 362L95.73 362Z" fill="#fff" stroke="#6e6e6e" stroke-width="0.55"/>
<path d="M13.5 216.2H22.2V237H25.5V256.9H66.5V284H79.8V309.7H139.4V362.1" fill="none" stroke="#8c8c8c" stroke-width="0.9"/>
<path d="M22.2 235.2L23.87 238.1L20.53 238.1Z" fill="#000"/>
<path d="M25.5 255.1L27.17 258L23.83 258Z" fill="#000"/>
<path d="M66.5 282.2L68.17 285.1L64.83 285.1Z" fill="#000"/>
<path d="M79.8 307.9L81.47 310.8L78.13 310.8Z" fill="#000"/>
<path d="M139.4 359.1L141.07 362L137.73 362Z" fill="#000"/>
<path d="M13.5 216.2H23.8V219.5H26.3V223.6H28.3V227.2H38.3V231.1H41V234.5H42.1V238.6H43.8V242.4H47.6V246.1H52.9V249.9H58.8V254.4H69.6V259.4H75.4V263.9H81.2V269.3H134.5V278.75H150V288H150.75V297H153V305.5H155V315.6H194.6V330.6H232.6" fill="none" stroke="#8c8c8c" stroke-width="0.9"/>
<circle cx="23.8" cy="219.5" r="1.38" fill="#ececec" stroke="#666" stroke-width="0.55"/>
<circle cx="26.3" cy="223.6" r="1.38" fill="#ececec" stroke="#666" stroke-width="0.55"/>
<circle cx="28.3" cy="227.2" r="1.38" fill="#ececec" stroke="#666" stroke-width="0.55"/>
<circle cx="38.3" cy="231.1" r="1.38" fill="#ececec" stroke="#666" stroke-width="0.55"/>
<circle cx="41" cy="234.5" r="1.38" fill="#ececec" stroke="#666" stroke-width="0.55"/>
<circle cx="42.1" cy="238.6" r="1.38" fill="#ececec" stroke="#666" stroke-width="0.55"/>
<circle cx="43.8" cy="242.4" r="1.38" fill="#ececec" stroke="#666" stroke-width="0.55"/>
<circle cx="47.6" cy="246.1" r="1.38" fill="#ececec" stroke="#666" stroke-width="0.55"/>
<circle cx="52.9" cy="249.9" r="1.38" fill="#ececec" stroke="#666" stroke-width="0.55"/>
<circle cx="58.8" cy="254.4" r="1.38" fill="#ececec" stroke="#666" stroke-width="0.55"/>
<circle cx="69.6" cy="259.4" r="1.38" fill="#ececec" stroke="#666" stroke-width="0.55"/>
<circle cx="75.4" cy="263.9" r="1.38" fill="#ececec" stroke="#666" stroke-width="0.55"/>
<circle cx="81.2" cy="269.3" r="1.38" fill="#ececec" stroke="#666" stroke-width="0.55"/>
<circle cx="134.5" cy="278.75" r="1.38" fill="#ececec" stroke="#666" stroke-width="0.55"/>
<circle cx="150" cy="288" r="1.38" fill="#ececec" stroke="#666" stroke-width="0.55"/>
<circle cx="150.75" cy="297" r="1.38" fill="#ececec" stroke="#666" stroke-width="0.55"/>
<circle cx="153" cy="305.5" r="1.38" fill="#ececec" stroke="#666" stroke-width="0.55"/>
<circle cx="155" cy="315.6" r="1.38" fill="#ececec" stroke="#666" stroke-width="0.55"/>
<circle cx="194.6" cy="330.6" r="1.38" fill="#ececec" stroke="#666" stroke-width="0.55"/>
<path d="M13.5 216.2H33.8V232.3H34.3V248.3H168V305.1H189" fill="none" stroke="#8c8c8c" stroke-width="0.9"/>
<circle cx="33.8" cy="232.3" r="1.45" fill="#000"/>
<circle cx="34.3" cy="248.3" r="1.45" fill="#000"/>
<circle cx="168" cy="305.1" r="1.45" fill="#000"/>
<circle cx="139.6" cy="214.4" r="0.9" fill="#000"/>
<text x="142.4" y="216.3" font-size="4.5" text-anchor="start" font-weight="normal" font-style="normal" fill="#111" stroke="#111" stroke-width="0.16" textLength="95.5" lengthAdjust="spacingAndGlyphs">Favorable group (n=10); median survival 85 months</text>
<circle cx="139.6" cy="221.9" r="0.75" fill="#b4b4b4"/>
<text x="142.4" y="223.9" font-size="4.5" text-anchor="start" font-weight="normal" font-style="normal" fill="#111" stroke="#111" stroke-width="0.16" textLength="78.8" lengthAdjust="spacingAndGlyphs">Normal (n=39); median survival 61 months</text>
<path d="M139.6 228.51L140.98 230.91L138.22 230.91Z" fill="#000"/>
<text x="143.9" y="231.5" font-size="4.5" text-anchor="start" font-weight="normal" font-style="normal" fill="#111" stroke="#111" stroke-width="0.16" textLength="76.3" lengthAdjust="spacingAndGlyphs">Others (n=7); median survival 35 months</text>
<path d="M138.9 235.77L140.22 238.07L137.58 238.07Z" fill="#fff" stroke="#6e6e6e" stroke-width="0.55"/>
<text x="142.4" y="239.1" font-size="4.5" text-anchor="start" font-weight="normal" font-style="normal" fill="#111" stroke="#111" stroke-width="0.16" textLength="85.6" lengthAdjust="spacingAndGlyphs">Unfavorable (n=6); median survival 32 months</text>
<text x="193.8" y="281.7" font-size="4.55" text-anchor="start" font-weight="bold" font-style="italic" fill="#000" stroke="#000" stroke-width="0.18" textLength="16.2" lengthAdjust="spacingAndGlyphs">P = .007</text>
<path d="M280.5 214.8V364.2H517.5" fill="none" stroke="#a6a6a6" stroke-width="1"/>
<path d="M279.3 361.2H280.5" stroke="#a6a6a6" stroke-width="0.6"/>
<text x="278.3" y="362.3" font-size="3.1" text-anchor="end" font-weight="normal" font-style="normal" fill="#444" stroke="#444" stroke-width="0.12">0</text>
<path d="M279.3 332.54H280.5" stroke="#a6a6a6" stroke-width="0.6"/>
<text x="278.3" y="333.64" font-size="3.1" text-anchor="end" font-weight="normal" font-style="normal" fill="#444" stroke="#444" stroke-width="0.12">.2</text>
<path d="M279.3 303.88H280.5" stroke="#a6a6a6" stroke-width="0.6"/>
<text x="278.3" y="304.98" font-size="3.1" text-anchor="end" font-weight="normal" font-style="normal" fill="#444" stroke="#444" stroke-width="0.12">.4</text>
<path d="M279.3 275.22H280.5" stroke="#a6a6a6" stroke-width="0.6"/>
<text x="278.3" y="276.32" font-size="3.1" text-anchor="end" font-weight="normal" font-style="normal" fill="#444" stroke="#444" stroke-width="0.12">.6</text>
<path d="M279.3 246.56H280.5" stroke="#a6a6a6" stroke-width="0.6"/>
<text x="278.3" y="247.66" font-size="3.1" text-anchor="end" font-weight="normal" font-style="normal" fill="#444" stroke="#444" stroke-width="0.12">.8</text>
<path d="M279.3 217.9H280.5" stroke="#a6a6a6" stroke-width="0.6"/>
<text x="278.3" y="219" font-size="3.1" text-anchor="end" font-weight="normal" font-style="normal" fill="#444" stroke="#444" stroke-width="0.12">1</text>
<path d="M283.6 364.2V365.4" stroke="#a6a6a6" stroke-width="0.6"/>
<text x="283.6" y="370.5" font-size="3.1" text-anchor="middle" font-weight="normal" font-style="normal" fill="#444" stroke="#444" stroke-width="0.12">0</text>
<path d="M300.26 364.2V365.4" stroke="#a6a6a6" stroke-width="0.6"/>
<path d="M316.92 364.2V365.4" stroke="#a6a6a6" stroke-width="0.6"/>
<text x="316.92" y="370.5" font-size="3.1" text-anchor="middle" font-weight="normal" font-style="normal" fill="#444" stroke="#444" stroke-width="0.12">20</text>
<path d="M333.58 364.2V365.4" stroke="#a6a6a6" stroke-width="0.6"/>
<path d="M350.24 364.2V365.4" stroke="#a6a6a6" stroke-width="0.6"/>
<text x="350.24" y="370.5" font-size="3.1" text-anchor="middle" font-weight="normal" font-style="normal" fill="#444" stroke="#444" stroke-width="0.12">40</text>
<path d="M366.9 364.2V365.4" stroke="#a6a6a6" stroke-width="0.6"/>
<path d="M383.56 364.2V365.4" stroke="#a6a6a6" stroke-width="0.6"/>
<text x="383.56" y="370.5" font-size="3.1" text-anchor="middle" font-weight="normal" font-style="normal" fill="#444" stroke="#444" stroke-width="0.12">60</text>
<path d="M400.22 364.2V365.4" stroke="#a6a6a6" stroke-width="0.6"/>
<path d="M416.88 364.2V365.4" stroke="#a6a6a6" stroke-width="0.6"/>
<text x="416.88" y="370.5" font-size="3.1" text-anchor="middle" font-weight="normal" font-style="normal" fill="#444" stroke="#444" stroke-width="0.12">80</text>
<path d="M433.54 364.2V365.4" stroke="#a6a6a6" stroke-width="0.6"/>
<path d="M450.2 364.2V365.4" stroke="#a6a6a6" stroke-width="0.6"/>
<text x="450.2" y="370.5" font-size="3.1" text-anchor="middle" font-weight="normal" font-style="normal" fill="#444" stroke="#444" stroke-width="0.12">100</text>
<path d="M466.86 364.2V365.4" stroke="#a6a6a6" stroke-width="0.6"/>
<path d="M483.52 364.2V365.4" stroke="#a6a6a6" stroke-width="0.6"/>
<text x="483.52" y="370.5" font-size="3.1" text-anchor="middle" font-weight="normal" font-style="normal" fill="#444" stroke="#444" stroke-width="0.12">120</text>
<path d="M500.18 364.2V365.4" stroke="#a6a6a6" stroke-width="0.6"/>
<path d="M516.84 364.2V365.4" stroke="#a6a6a6" stroke-width="0.6"/>
<text x="516.84" y="370.5" font-size="3.1" text-anchor="middle" font-weight="normal" font-style="normal" fill="#444" stroke="#444" stroke-width="0.12">140</text>
<text x="394.5" y="375.7" font-size="4.3" text-anchor="middle" font-weight="bold" font-style="normal" fill="#000">months</text>
<text transform="translate(270 283.9) rotate(-90)" font-size="4.1" text-anchor="middle" font-weight="bold">Survival</text>
<text x="267.8" y="205.2" font-size="11.5" text-anchor="start" font-weight="bold" font-style="normal" fill="#000">D</text>
<path d="M282.7 217.7H292.5V228H295.75V238H297V248.75H309.5V258.25H333.2V270.8H335.6V281.8H342.5V293.3H347.7V304.7H349.4V315.8H351.2V326.8H366.7V343.5H408.3V360.7" fill="none" stroke="#8c8c8c" stroke-width="0.9"/>
<circle cx="292.5" cy="228" r="1.38" fill="#ececec" stroke="#666" stroke-width="0.55"/>
<circle cx="295.75" cy="238" r="1.38" fill="#ececec" stroke="#666" stroke-width="0.55"/>
<circle cx="297" cy="248.75" r="1.38" fill="#ececec" stroke="#666" stroke-width="0.55"/>
<circle cx="309.5" cy="258.25" r="1.38" fill="#ececec" stroke="#666" stroke-width="0.55"/>
<circle cx="333.2" cy="270.8" r="1.38" fill="#ececec" stroke="#666" stroke-width="0.55"/>
<circle cx="335.6" cy="281.8" r="1.38" fill="#ececec" stroke="#666" stroke-width="0.55"/>
<circle cx="342.5" cy="293.3" r="1.38" fill="#ececec" stroke="#666" stroke-width="0.55"/>
<circle cx="347.7" cy="304.7" r="1.38" fill="#ececec" stroke="#666" stroke-width="0.55"/>
<circle cx="349.4" cy="315.8" r="1.38" fill="#ececec" stroke="#666" stroke-width="0.55"/>
<circle cx="351.2" cy="326.8" r="1.38" fill="#ececec" stroke="#666" stroke-width="0.55"/>
<circle cx="366.7" cy="343.5" r="1.38" fill="#ececec" stroke="#666" stroke-width="0.55"/>
<circle cx="408.3" cy="360.9" r="1.38" fill="#ececec" stroke="#666" stroke-width="0.55"/>
<path d="M282.7 217.7H293.25V220.5H295V223.75H299V227H303.25V230H304.5V233H308.25V235.5H309.5V238H311.5V241.25H313.25V244.5H317V247.5H323.4V250.7H328.8V254.2H339.2V257H344.3V261.8H351.3V266.3H403V273.2H418.7V281.8H419.7V289.1H421.4V296.7H422.8V304.7H436V314.7H461.9V330.3H499.3" fill="none" stroke="#8c8c8c" stroke-width="0.9"/>
<circle cx="293.25" cy="220.5" r="1.45" fill="#000"/>
<circle cx="295" cy="223.75" r="1.45" fill="#000"/>
<circle cx="299" cy="227" r="1.45" fill="#000"/>
<circle cx="303.25" cy="230" r="1.45" fill="#000"/>
<circle cx="304.5" cy="233" r="1.45" fill="#000"/>
<circle cx="308.25" cy="235.5" r="1.45" fill="#000"/>
<circle cx="309.5" cy="238" r="1.45" fill="#000"/>
<circle cx="311.5" cy="241.25" r="1.45" fill="#000"/>
<circle cx="313.25" cy="244.5" r="1.45" fill="#000"/>
<circle cx="317" cy="247.5" r="1.45" fill="#000"/>
<circle cx="323.4" cy="250.7" r="1.45" fill="#000"/>
<circle cx="328.8" cy="254.2" r="1.45" fill="#000"/>
<circle cx="339.2" cy="257" r="1.45" fill="#000"/>
<circle cx="344.3" cy="261.8" r="1.45" fill="#000"/>
<circle cx="351.3" cy="266.3" r="1.45" fill="#000"/>
<circle cx="403" cy="273.2" r="1.45" fill="#000"/>
<circle cx="418.7" cy="281.8" r="1.45" fill="#000"/>
<circle cx="419.7" cy="289.1" r="1.45" fill="#000"/>
<circle cx="421.4" cy="296.7" r="1.45" fill="#000"/>
<circle cx="422.8" cy="304.7" r="1.45" fill="#000"/>
<circle cx="436" cy="314.7" r="1.45" fill="#000"/>
<circle cx="461.9" cy="330.3" r="1.45" fill="#000"/>
<circle cx="395.8" cy="219.6" r="0.9" fill="#000"/>
<text x="399.1" y="221.2" font-size="4.5" text-anchor="start" font-weight="normal" font-style="normal" fill="#111" stroke="#111" stroke-width="0.16" textLength="100" lengthAdjust="spacingAndGlyphs">Favorable + normal (n=49); median survival 81 months</text>
<circle cx="395.8" cy="226.7" r="0.75" fill="#b4b4b4"/>
<text x="398.8" y="228.7" font-size="4.5" text-anchor="start" font-weight="normal" font-style="normal" fill="#111" stroke="#111" stroke-width="0.16" textLength="102.7" lengthAdjust="spacingAndGlyphs">Unfavorable + others (n=15); median survival 33 months</text>
<text x="394.8" y="243.2" font-size="4.55" text-anchor="start" font-weight="bold" font-style="italic" fill="#000" stroke="#000" stroke-width="0.18" textLength="17.9" lengthAdjust="spacingAndGlyphs">P = .0008</text>
</g></svg>
</body></html>
